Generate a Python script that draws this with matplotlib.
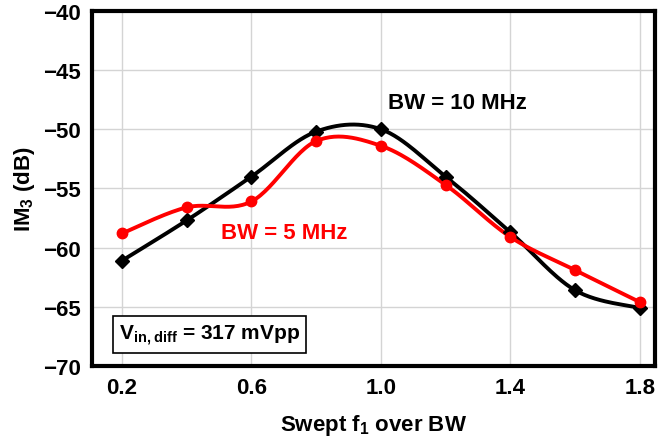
import numpy as np
import matplotlib
matplotlib.use("Agg")
import matplotlib.pyplot as plt

plt.rcParams['font.family'] = ['Liberation Sans', 'DejaVu Sans']
plt.rcParams['font.weight'] = 'bold'
plt.rcParams['mathtext.fontset'] = 'custom'
plt.rcParams['mathtext.rm'] = 'Liberation Sans'
plt.rcParams['mathtext.bf'] = 'Liberation Sans:bold'

x_vals = [0.2, 0.4, 0.6, 0.8, 1.0, 1.2, 1.4, 1.6, 1.8]
bw10 = [-61.1, -57.7, -54.0, -50.2, -50.0, -54.0, -58.7, -63.6, -65.1]
bw5 = [-58.8, -56.6, -56.1, -51.0, -51.4, -54.7, -59.1, -61.9, -64.6]
x_ticks = [0.2, 0.6, 1.0, 1.4, 1.8]
y_ticks = [-70, -65, -60, -55, -50, -45, -40]


def smooth(xs, ys, n=30, t=0.5):
    xs = np.asarray(xs, float); ys = np.asarray(ys, float)
    P = np.column_stack([xs, ys])
    out = [P[0]]
    for i in range(len(P) - 1):
        p0 = P[i - 1] if i > 0 else P[i]
        p1, p2 = P[i], P[i + 1]
        p3 = P[i + 2] if i + 2 < len(P) else P[i + 1]
        c1 = p1 + (p2 - p0) * t / 3
        c2 = p2 - (p3 - p1) * t / 3
        s = np.linspace(0, 1, n)[1:, None]
        seg = ((1 - s) ** 3) * p1 + 3 * ((1 - s) ** 2) * s * c1 + 3 * (1 - s) * s ** 2 * c2 + s ** 3 * p2
        out.extend(seg)
    out = np.array(out)
    return out[:, 0], out[:, 1]


fig = plt.figure(figsize=(6.66, 4.39), dpi=100)
ax = fig.add_axes([0.138, 0.164, 0.845, 0.809])

sx, sy = smooth(x_vals, bw10, t=0.5)
ax.plot(sx, sy, color='black', lw=2.8, zorder=3)
ax.plot(x_vals, bw10, linestyle='none', marker='D', ms=7, color='black', zorder=4)
sx, sy = smooth(x_vals, bw5, t=0.5)
ax.plot(sx, sy, color='#ff0000', lw=2.8, zorder=3)
ax.plot(x_vals, bw5, linestyle='none', marker='o', ms=7.5, color='#ff0000', zorder=4)

ax.set_xlim(0.107, 1.846)
ax.set_ylim(-70, -40)
ax.set_xticks(x_ticks)
ax.set_xticklabels([f"{v:.1f}" for v in x_ticks])
ax.set_yticks(y_ticks)
ax.set_yticklabels([f"\u2212{abs(v)}" for v in y_ticks])
ax.tick_params(axis='both', length=0, labelsize=16, pad=8)
for lab in ax.get_xticklabels() + ax.get_yticklabels():
    lab.set_fontweight('bold')
ax.grid(True, color='#d4d4d4', lw=1)
ax.set_axisbelow(True)
for s in ax.spines.values():
    s.set_linewidth(3)
    s.set_color('black')

ax.set_xlabel("Swept f$_\\mathrm{1}$ over BW", fontsize=16, fontweight='bold', labelpad=10)
ax.set_ylabel("IM$_\\mathrm{3}$ (dB)", fontsize=16, fontweight='bold', labelpad=4)

ax.text(1.235, -47.7, "BW = 10 MHz", color='black', fontsize=16, fontweight='bold', ha='center', va='center')
ax.text(0.70, -58.7, "BW = 5 MHz", color='#ff0000', fontsize=16, fontweight='bold', ha='center', va='center')
ax.text(0.19, -67.35, "V$_\\mathbf{in,diff}$ = 317 mVpp", color='black', fontsize=15, fontweight='bold',
        ha='left', va='center',
        bbox=dict(boxstyle='square,pad=0.3', fc='white', ec='black', lw=1.2))

fig.savefig("out.png", dpi=100)
